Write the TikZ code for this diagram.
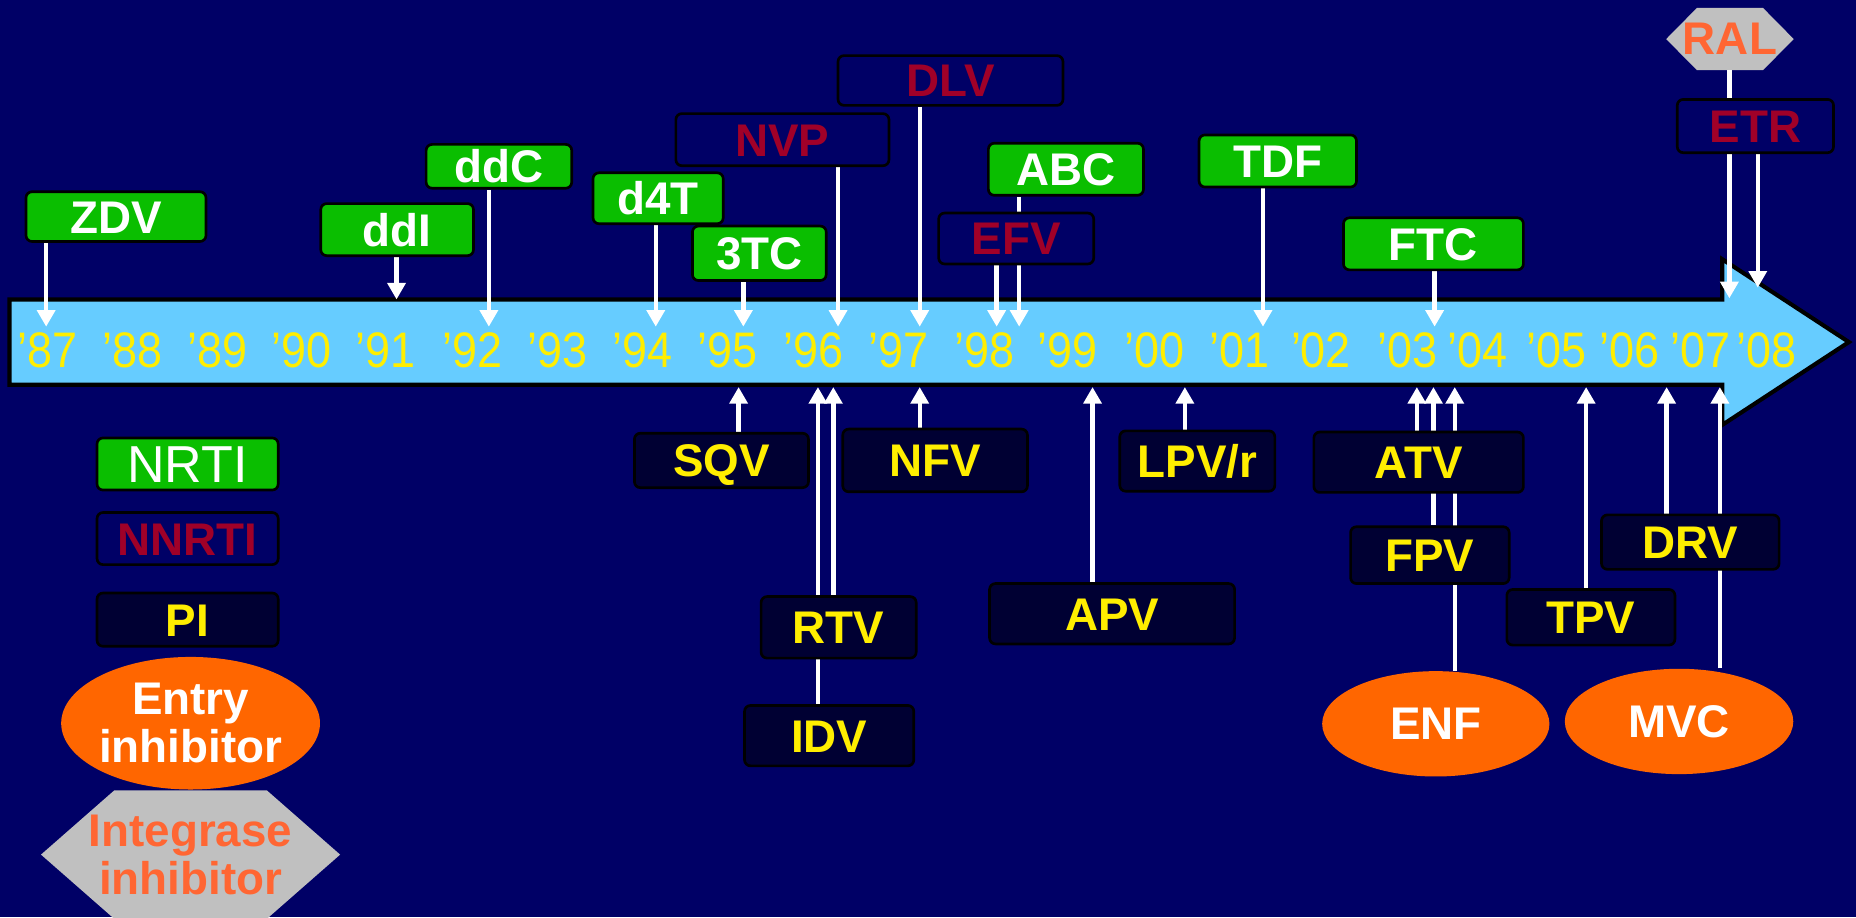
\documentclass[tikz,border=0pt]{standalone}
\usepackage{fontspec}
\setmainfont{Liberation Sans}
\newfontfamily\yrfont[FakeStretch=0.9]{Liberation Sans}
\usetikzlibrary{arrows.meta,shapes.geometric}
\definecolor{navy}{RGB}{0,0,102}
\definecolor{deep}{RGB}{0,0,51}
\definecolor{grn}{RGB}{10,190,0}
\definecolor{dred}{RGB}{160,0,40}
\definecolor{yel}{RGB}{255,238,0}
\definecolor{sky}{RGB}{102,204,255}
\definecolor{orng}{RGB}{255,102,0}
\definecolor{otxt}{RGB}{255,102,51}
\definecolor{hgray}{RGB}{192,192,192}
\newcommand{\bigbf}{\bfseries\fontsize{22}{23.2}\selectfont}
\newcommand{\hexa}[2]{\fill[hgray](#1.west)--([xshift=#2]#1.north west)--([xshift=-#2]#1.north east)--(#1.east)--([xshift=-#2]#1.south east)--([xshift=#2]#1.south west)--cycle;}
\pgfdeclarelayer{bg}\pgfdeclarelayer{body}\pgfdeclarelayer{lines}
\pgfsetlayers{bg,body,lines,main}
\tikzset{box/.style={draw=black,line width=.45mm,rounded corners=1mm,inner sep=0pt,font=\bigbf,text height=15.8pt,text depth=0pt},
 wh/.style 2 args={minimum width=#1mm,minimum height=#2mm},
 nrti/.style={box,fill=grn,text=white},nnrti/.style={box,fill=navy,text=dred},
 prot/.style={box,fill=deep,text=yel},
 entry/.style={ellipse,fill=orng,text=white,inner sep=0pt,align=center,font=\bigbf},
 integ/.style={inner sep=0pt,text=otxt,align=center,font=\bigbf},
 yr/.style={text=yel,inner sep=0pt,font=\yrfont\fontsize{24}{26}\selectfont},
 flow/.style={-{Triangle[length=2.8mm,width=3mm]},draw=white,line width=.75mm}}

\begin{document}
\begin{tikzpicture}[x=.2mm,y=-.2mm]
\useasboundingbox (0,0) rectangle (1568,775);
\begin{pgfonlayer}{bg}\fill[navy](0,0) rectangle (1568,775);\end{pgfonlayer}
\begin{pgfonlayer}{body}
\filldraw[fill=sky,draw=black,line width=.7mm](8,253)--(1455,253)--(1455,219)--(1562,289)--(1455,359)--(1455,325)--(8,325)--cycle;
\end{pgfonlayer}
% years
\foreach \xx/\yy in {40/87,112/88,184/89,255/90,326/91,399/92,471/93,543/94,615/95,687/96,759/97,
 832/98,902/99,975/00,1047/01,1116/02,1189/03,1248/04,1315/05,1377/06,1437/07,1492/08}
 \node[yr](y\yy) at (\xx,296){’\yy};
% above the line
\node[nrti,wh={30.4}{8.4}](zdv) at (98,183){ZDV};\node[nrti,wh={25.8}{8.8}](ddi) at (335.5,194){ddI};
\node[nrti,wh={24.6}{7.4}](ddc) at (421.5,140.5){ddC};\node[nrti,wh={22}{8.6}](d4t) at (556,167.5){d4T};
\node[nrti,wh={22.6}{9.2}](tc) at (641.5,214){3TC};\node[nnrti,wh={36}{8.8}](nvp) at (661,118){NVP};
\node[nnrti,wh={38}{8.4}](dlv) at (803,68){DLV};\node[nrti,wh={26.2}{8.8}](abc) at (900.5,143){ABC};
\node[nnrti,wh={26.2}{8.6}](efv) at (858.5,201.5){EFV};\node[nrti,wh={26.6}{8.8}](tdf) at (1079.5,136){TDF};
\node[nrti,wh={30.4}{8.8}](ftc) at (1211,206){FTC};\node[integ,wh={21.4}{10.4}](ral) at (1461.5,33){RAL};
\node[nnrti,wh={26.4}{9}](etr) at (1483,106.5){ETR};
% below the line
\node[prot,wh={29.4}{9.2}](sqv) at (609.5,389){SQV};\node[prot,wh={31.2}{10.6}](nfv) at (790,389){NFV};
\node[prot,wh={26.2}{10.2}](lpv) at (1011.5,389.5){LPV/r};\node[prot,wh={26.2}{10.4}](rtv) at (708.5,530){RTV};
\node[prot,wh={28.6}{10.2}](idv) at (700.5,621.5){IDV};\node[prot,wh={41.4}{10.2}](apv) at (939.5,518.5){APV};
\node[prot,wh={35.4}{10.2}](atv) at (1198.5,390.5){ATV};\node[prot,wh={26.8}{9.6}](fpv) at (1208,469){FPV};
\node[prot,wh={28.4}{9.4}](tpv) at (1344,521.5){TPV};\node[prot,wh={30}{9.2}](drv) at (1428,458){DRV};
\node[entry,wh={38.4}{17.8}](enf) at (1213,611.5){ENF};\node[entry,wh={38.6}{17.8}](mvc) at (1418.5,609.5){MVC};
% legend
\node[nrti,wh={30.6}{8.8},font=\fontsize{25}{26}\selectfont,text height=17.9pt](lnrti) at (158.5,392){NRTI};
\node[nnrti,wh={30.6}{8.8}](lnnrti) at (158.5,455){NNRTI};\node[prot,wh={30.6}{9}](lpi) at (158.5,523.5){PI};
\node[entry,wh={43.6}{22.4}](lentry) at (161,611){Entry\\inhibitor};
\node[integ,wh={50.4}{21.6}](linteg) at (161,722){Integrase\\inhibitor};
\begin{pgfonlayer}{body}\hexa{ral}{5.2mm}\hexa{linteg}{12.4mm}\end{pgfonlayer}
% arrow ends
\coordinate(zdvt) at (39,276);\coordinate(ddit) at (335,253);\coordinate(ddct) at (413,276);
\coordinate(d4tt) at (554,276);\coordinate(tct) at (628,276);\coordinate(nvpt) at (708,276);
\coordinate(dlvt) at (777,276);\coordinate(efvt) at (842,276);\coordinate(abct) at (861,276);
\coordinate(tdft) at (1067,276);\coordinate(ftct) at (1212,276);\coordinate(ralt) at (1461,252);
\coordinate(etrt) at (1485,243);
\coordinate(sqvt) at (624,327);\coordinate(idvt) at (691,327);\coordinate(rtvt) at (704,327);
\coordinate(nfvt) at (777,327);\coordinate(apvt) at (923,327);\coordinate(lpvt) at (1001,327);
\coordinate(atvt) at (1197,327);\coordinate(fpvt) at (1211,327);\coordinate(enft) at (1229,327);
\coordinate(tpvt) at (1340,327);\coordinate(drvt) at (1408,327);\coordinate(mvct) at (1453,327);
\begin{pgfonlayer}{lines}
\foreach \n in {zdv,ddi,ddc,d4t,tc,nvp,dlv,efv,abc,tdf,ftc,ral,etr} \draw[flow](\n.south-|\n t)--(\n t);
\foreach \n in {sqv,idv,rtv,nfv,apv,lpv,atv,fpv,enf,tpv,drv,mvc} \draw[flow](\n.north-|\n t)--(\n t);
\end{pgfonlayer}
\end{tikzpicture}
\end{document}
